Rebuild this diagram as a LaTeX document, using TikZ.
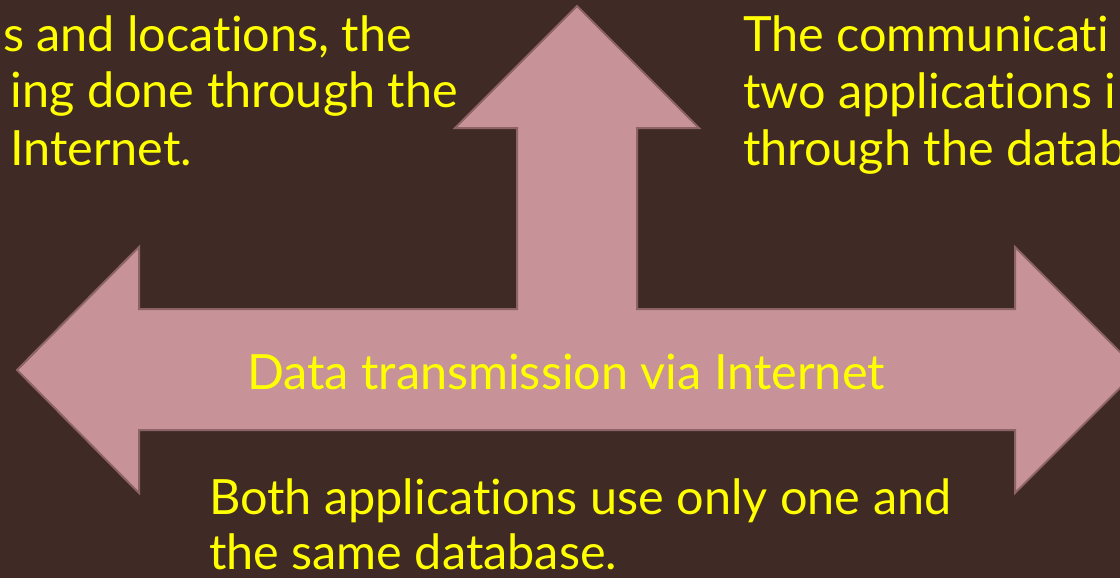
\documentclass[tikz,border=0pt]{standalone}
\usepackage{fontspec}
\setmainfont{Lato}[Ligatures={NoCommon}]
\definecolor{bgc}{HTML}{3F2A26}
\definecolor{arrowfill}{HTML}{C79398}
\definecolor{arrowline}{HTML}{8D6367}
\definecolor{txt}{HTML}{FFFF00}
\begin{document}
\begin{tikzpicture}[x=1pt,y=-1pt,
  lbl/.style={inner sep=0pt, outer sep=0pt, text=txt, font=\fontsize{48.6}{57}\selectfont}]
\clip (0,0) rectangle (1120,578);
\fill[bgc] (0,0) rectangle (1120,578);
\filldraw[fill=arrowfill, draw=arrowline, line width=2pt, line join=miter]
  (17,370) -- (139,247) -- (139,309) -- (517,309) -- (517,128) -- (455,128)
  -- (577,6) -- (699,128) -- (637,128) -- (637,309) -- (1015,309) -- (1015,247)
  -- (1138,370) -- (1015,493) -- (1015,430) -- (139,430) -- (139,493) -- cycle;
\node[lbl, anchor=base east] (tl1) at (412,52) {s and locations, the};
\node[lbl, anchor=base east] (tl2) at (458,107) {ing done through the};
\node[lbl, anchor=base west] (tl3) at (10,165) {Internet.};
\node[lbl, anchor=base west] (tr1) at (743,52) {The communicati};
\node[lbl, anchor=base west] (tr2) at (743,108) {two applications i};
\node[lbl, anchor=base west] (tr3) at (743,165) {through the datab};
\node[lbl, anchor=base west] (mid) at (247,389) {Data transmission via Internet};
\node[lbl, anchor=base west] (bot1) at (209,514) {Both applications use only one and};
\node[lbl, anchor=base west] (bot2) at (209,569) {the same database.};
\end{tikzpicture}
\end{document}
